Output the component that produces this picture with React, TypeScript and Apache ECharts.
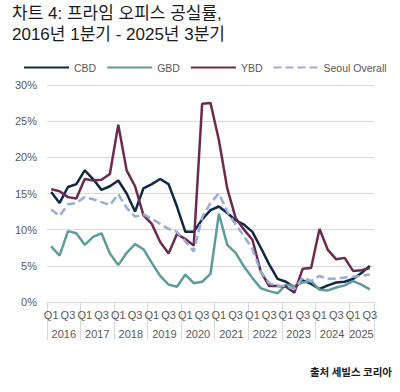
import React, { useEffect, useRef } from "react";
import * as echarts from "echarts";

const quarters = [
  "Q1","Q2","Q3","Q4","Q1","Q2","Q3","Q4","Q1","Q2","Q3","Q4",
  "Q1","Q2","Q3","Q4","Q1","Q2","Q3","Q4","Q1","Q2","Q3","Q4",
  "Q1","Q2","Q3","Q4","Q1","Q2","Q3","Q4","Q1","Q2","Q3","Q4",
  "Q1","Q2","Q3",
];
const years = ["2016","2017","2018","2019","2020","2021","2022","2023","2024","2025"];
const quartersPerYear = [4,4,4,4,4,4,4,4,4,3];

const cbd = [15.2,13.7,15.9,16.3,18.2,17.0,15.5,16.0,16.8,15.0,12.5,15.7,16.3,17.0,16.3,13.2,9.7,9.7,11.4,12.7,13.2,12.3,11.3,10.7,9.7,7.5,5.2,3.2,2.8,2.0,3.0,2.5,1.8,2.3,2.7,2.8,3.2,4.0,5.0];
const gbd = [7.7,6.4,9.8,9.5,7.9,9.0,9.5,6.7,5.1,6.8,8.0,7.3,5.4,3.6,2.4,2.1,3.8,2.6,2.8,3.9,12.2,7.9,6.8,4.9,3.3,1.9,1.5,1.2,2.4,2.2,2.7,2.9,1.7,1.6,2.0,2.3,2.9,2.4,1.75];
const ybd = [15.6,15.3,14.5,14.3,17.0,16.8,16.9,17.7,24.5,18.2,16.0,12.0,10.8,8.3,6.7,9.4,8.7,7.8,27.4,27.5,22.4,15.7,11.6,10.0,8.6,4.2,2.2,2.2,2.1,1.3,4.6,4.7,10.1,7.2,5.9,6.1,4.3,4.4,4.7];
const seoul = [12.8,11.9,13.5,13.7,14.5,14.2,13.8,13.4,14.9,13.0,11.8,12.1,11.5,10.8,10.1,9.7,8.4,7.0,11.7,13.7,15.0,12.5,10.7,9.1,7.3,4.2,2.6,2.2,2.2,1.8,3.4,2.9,3.6,3.2,3.2,3.4,3.5,3.6,3.8];

export default function App() {
  const ref = useRef<HTMLDivElement>(null);
  useEffect(() => {
    if (!ref.current) return;
    const chart = echarts.init(ref.current, undefined, { renderer: "svg" });
    const bounds: number[] = [0];
    const centers: number[] = [];
    quartersPerYear.forEach((q) => {
      const start = bounds[bounds.length - 1];
      centers.push(start + q / 2);
      bounds.push(start + q);
    });
    const total = bounds[bounds.length - 1];
    const font = "'Liberation Sans', 'Noto Sans CJK KR', sans-serif";
    const grey = "#595959";
    chart.setOption({
      animation: false,
      title: {
        text: "차트 4: 프라임 오피스 공실률,\n2016년 1분기 - 2025년 3분기",
        left: 12,
        top: 3,
        padding: 0,
        textStyle: {
          fontFamily: font,
          fontSize: 17,
          fontWeight: "normal",
          color: "#1a1a1a",
          lineHeight: 21,
        },
      },
      legend: {
        top: 62,
        left: 23,
        padding: 0,
        itemWidth: 45,
        itemHeight: 14,
        itemGap: 10,
        itemStyle: { opacity: 0 },
        textStyle: { fontFamily: font, fontSize: 10.5, color: grey },
        data: ["CBD", "GBD", "YBD", "Seoul Overall"],
      },
      grid: { left: 47, right: 26, top: 85, bottom: 90 },
      xAxis: [
        {
          type: "category",
          position: "bottom",
          data: quarters,
          boundaryGap: true,
          axisLine: { lineStyle: { color: "#d9d9d9" } },
          axisTick: { show: false },
          axisLabel: {
            interval: 1,
            margin: 7,
            fontFamily: font,
            fontSize: 11,
            color: grey,
          },
          splitLine: { show: false },
        },
        {
          type: "value",
          position: "bottom",
          min: 0,
          max: total,
          axisLine: { show: false },
          splitLine: { show: false },
          axisTick: {
            show: true,
            customValues: bounds,
            length: 38,
            lineStyle: { color: "#d9d9d9" },
          },
          axisLabel: {
            customValues: centers,
            margin: 26,
            fontFamily: font,
            fontSize: 11,
            color: grey,
            formatter: (v: number) => {
              const idx = centers.findIndex((c) => Math.abs(c - v) < 0.01);
              return idx >= 0 ? years[idx] : "";
            },
          },
        },
      ],
      yAxis: {
        type: "value",
        min: 0,
        max: 30,
        interval: 5,
        axisLine: { show: false },
        axisTick: { show: false },
        axisLabel: {
          formatter: "{value}%",
          margin: 10,
          fontFamily: font,
          fontSize: 11,
          color: grey,
        },
        splitLine: { lineStyle: { color: "#d9d9d9", width: 1 } },
      },
      graphic: [
        {
          type: "text",
          right: 8,
          top: 366,
          style: {
            text: "출처 세빌스 코리아",
            font: "bold 10.5px 'Noto Sans CJK KR', sans-serif",
            fill: "#1a1a1a",
          },
        },
      ],
      series: [
        {
          name: "CBD",
          type: "line",
          data: cbd,
          symbol: "none",
          lineStyle: { color: "#0f2847", width: 2.5 },
          itemStyle: { color: "#0f2847" },
        },
        {
          name: "GBD",
          type: "line",
          data: gbd,
          symbol: "none",
          lineStyle: { color: "#5e9c9c", width: 2.5 },
          itemStyle: { color: "#5e9c9c" },
        },
        {
          name: "YBD",
          type: "line",
          data: ybd,
          symbol: "none",
          lineStyle: { color: "#6b2b50", width: 2.5 },
          itemStyle: { color: "#6b2b50" },
        },
        {
          name: "Seoul Overall",
          type: "line",
          data: seoul,
          symbol: "none",
          lineStyle: { color: "#95add8", width: 2.5, type: [8, 4] },
          itemStyle: { color: "#95add8" },
        },
      ],
    });
    return () => chart.dispose();
  }, []);
  return (
    <div
      ref={ref}
      style={{ position: "fixed", left: 0, top: 0, width: 400, height: 392, background: "#fff" }}
    />
  );
}
